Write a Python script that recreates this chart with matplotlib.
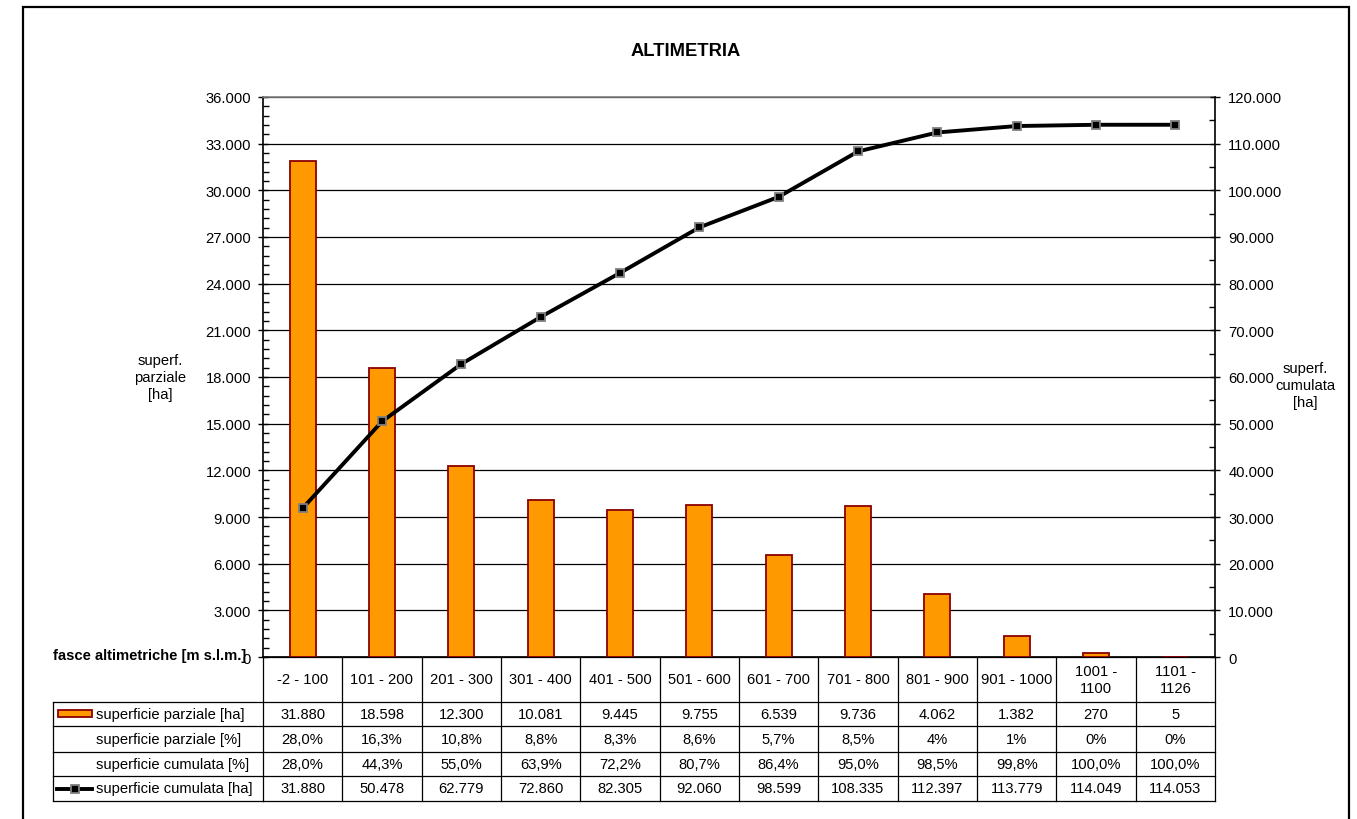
import matplotlib
matplotlib.use("Agg")
import matplotlib.pyplot as plt
from matplotlib.lines import Line2D
from matplotlib.patches import Rectangle
from matplotlib.ticker import FuncFormatter, MultipleLocator
from matplotlib.transforms import blended_transform_factory
import numpy as np

plt.rcParams['font.family'] = ['Liberation Sans', 'DejaVu Sans']

categories = ["-2 - 100", "101 - 200", "201 - 300", "301 - 400", "401 - 500", "501 - 600",
              "601 - 700", "701 - 800", "801 - 900", "901 - 1000", "1001 -\n1100", "1101 -\n1126"]
sup_parziale_ha = [31880, 18598, 12300, 10081, 9445, 9755, 6539, 9736, 4062, 1382, 270, 5]
sup_parziale_pct = ["28,0%", "16,3%", "10,8%", "8,8%", "8,3%", "8,6%", "5,7%", "8,5%", "4%", "1%", "0%", "0%"]
sup_cumulata_pct = ["28,0%", "44,3%", "55,0%", "63,9%", "72,2%", "80,7%", "86,4%", "95,0%", "98,5%", "99,8%", "100,0%", "100,0%"]
sup_cumulata_ha = [31880, 50478, 62779, 72860, 82305, 92060, 98599, 108335, 112397, 113779, 114049, 114053]
row_labels = ["superficie parziale [ha]", "superficie parziale [%]",
              "superficie cumulata [%]", "superficie cumulata [ha]"]

W, H = 1357, 820
fig = plt.figure(figsize=(W / 100, H / 100), dpi=100)

def fx(px):
    return px / W

def fy(py):
    return 1 - py / H

L, R, T, B = 263, 1215, 98, 658
ax = fig.add_axes([fx(L), fy(B), fx(R) - fx(L), fy(T) - fy(B)])

def thousands(v, pos=None):
    return f"{int(round(v)):,}".replace(",", ".")

FS = 10.6
bar_color = "#FF9900"
bar_edge = "#8B0000"

x = np.arange(len(categories))
ax.bar(x, sup_parziale_ha, width=0.33, color=bar_color, edgecolor=bar_edge, linewidth=1.3, zorder=3)
ax.set_xlim(-0.5, len(categories) - 0.5)
ax.set_ylim(0, 36000)
ax.yaxis.set_major_locator(MultipleLocator(3000))
ax.yaxis.set_minor_locator(MultipleLocator(600))
ax.yaxis.set_major_formatter(FuncFormatter(thousands))
ax.grid(axis='y', which='major', color='black', linewidth=0.9, zorder=0)
ax.set_xticks([])
ax.tick_params(axis='y', which='major', direction='inout', length=7, width=1, labelsize=FS, pad=5)
ax.tick_params(axis='y', which='minor', direction='in', length=4, width=1)
for s in ['top', 'right']:
    ax.spines[s].set_visible(False)
ax.spines['left'].set_linewidth(1.2)
ax.spines['bottom'].set_linewidth(1.2)

ax2 = ax.twinx()
ax2.plot(x, sup_cumulata_ha, color='black', linewidth=2.8, marker='s', markersize=6,
         markerfacecolor='black', markeredgecolor='#808080', markeredgewidth=1.3, zorder=5)
ax2.set_ylim(0, 120000)
ax2.yaxis.set_major_locator(MultipleLocator(10000))
ax2.yaxis.set_minor_locator(MultipleLocator(5000))
ax2.yaxis.set_major_formatter(FuncFormatter(thousands))
ax2.tick_params(axis='y', which='major', direction='inout', length=7, width=1, labelsize=FS, pad=6)
ax2.tick_params(axis='y', which='minor', direction='in', length=4, width=1)
for s in ['top', 'left', 'bottom']:
    ax2.spines[s].set_visible(False)
ax2.spines['right'].set_linewidth(1.2)
ax.plot([-0.5, len(categories) - 0.5], [36000, 36000], color='#808080', linewidth=1.2, clip_on=False, zorder=4)

# title and axis labels
fig.text(fx(686), fy(51), "ALTIMETRIA", ha='center', va='center', fontsize=13.2, fontweight='bold')
fig.text(fx(160), fy(378), "superf.\nparziale\n[ha]", ha='center', va='center', fontsize=FS, linespacing=1.25)
fig.text(fx(1305), fy(386), "superf.\ncumulata\n[ha]", ha='center', va='center', fontsize=FS, linespacing=1.25)
fig.text(fx(53), fy(656), "fasce altimetriche [m s.l.m.]", ha='left', va='center', fontsize=FS, fontweight='bold')

# data table
tr = blended_transform_factory(ax.transData, fig.transFigure)
row_y = [703, 727, 753, 777, 802]
lw = 0.9
n = len(categories)
ax.add_line(Line2D([-0.5, n - 0.5], [fy(B), fy(B)], transform=tr, color='black', lw=lw, clip_on=False))
for yy in row_y:
    ax.add_line(Line2D([-0.5, n - 0.5], [fy(yy), fy(yy)], transform=tr, color='black', lw=lw, clip_on=False))
for i in range(n + 1):
    ax.add_line(Line2D([i - 0.5, i - 0.5], [fy(B), fy(row_y[-1])], transform=tr, color='black', lw=lw, clip_on=False))
for yy in row_y:
    fig.add_artist(Line2D([fx(53), fx(L)], [fy(yy), fy(yy)], color='black', lw=lw))
fig.add_artist(Line2D([fx(53), fx(53)], [fy(row_y[0]), fy(row_y[-1])], color='black', lw=lw))

for i, c in enumerate(categories):
    ax.text(i, fy((B + row_y[0]) / 2), c, transform=tr, ha='center', va='center', fontsize=FS, linespacing=1.2)
rows = [[thousands(v) for v in sup_parziale_ha], sup_parziale_pct, sup_cumulata_pct,
        [thousands(v) for v in sup_cumulata_ha]]
for r, vals in enumerate(rows):
    yc = fy((row_y[r] + row_y[r + 1]) / 2)
    for i, v in enumerate(vals):
        ax.text(i, yc, v, transform=tr, ha='center', va='center', fontsize=FS)
    fig.text(fx(96), yc, row_labels[r], ha='left', va='center', fontsize=FS)

# legend keys
yc0 = fy((row_y[0] + row_y[1]) / 2)
fig.add_artist(Rectangle((fx(58), yc0 - 3 / H), fx(92) - fx(58), 7 / H, facecolor=bar_color,
                         edgecolor=bar_edge, lw=1.3))
yc3 = fy((row_y[3] + row_y[4]) / 2)
fig.add_artist(Line2D([fx(57), fx(92)], [yc3, yc3], color='black', lw=2.8))
fig.add_artist(Line2D([fx(75)], [yc3], marker='s', markersize=6, markerfacecolor='black',
                      markeredgecolor='#808080', markeredgewidth=1.3, lw=0))

# outer frame
fig.add_artist(Rectangle((fx(23), fy(830)), fx(1349) - fx(23), fy(8) - fy(830), fill=False,
                         edgecolor='black', lw=1.6))

fig.savefig("out.png", dpi=100)
